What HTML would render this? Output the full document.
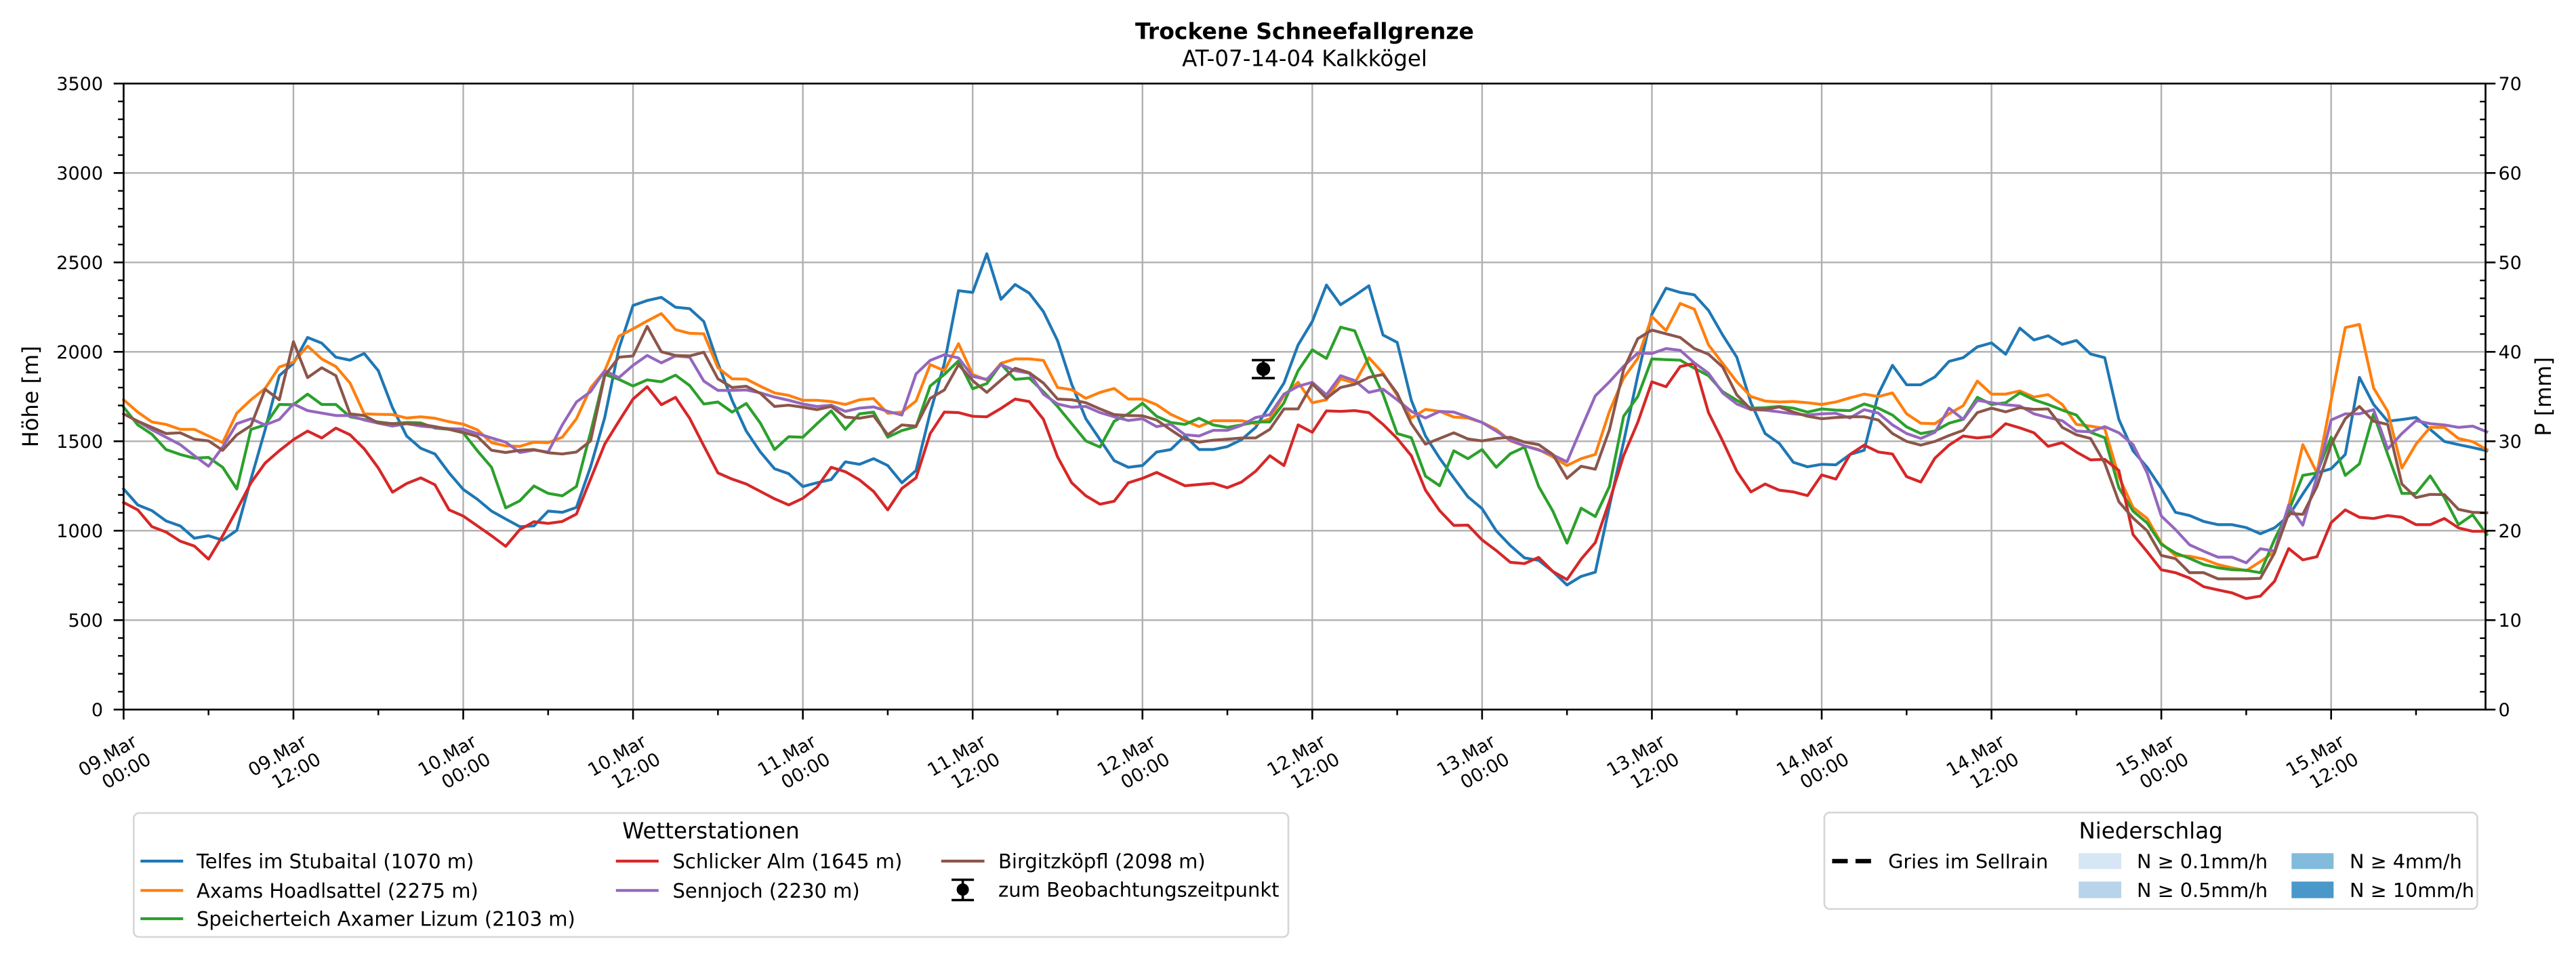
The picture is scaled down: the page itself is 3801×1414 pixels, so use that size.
<!DOCTYPE html>
<html>
<head>
<meta charset="utf-8">
<style>
html,body{margin:0;padding:0;background:#fff;}
body{width:3801px;height:1414px;overflow:hidden;}
svg{display:block;}
text{font-family:"DejaVu Sans","Liberation Sans",sans-serif;fill:#000;}
</style>
</head>
<body>
<svg width="3801" height="1414" viewBox="0 0 3801 1414" xmlns="http://www.w3.org/2000/svg">
<rect x="0" y="0" width="3801" height="1414" fill="#fff"/>

<!-- Title -->
<text x="1925" y="57.3" font-size="33" font-weight="bold" text-anchor="middle">Trockene Schneefallgrenze</text>
<text x="1925" y="97.3" font-size="32.5" text-anchor="middle">AT-07-14-04 Kalkkögel</text>

<!-- Grid -->
<g stroke="#b0b0b0" stroke-width="2.4">
<line x1="432.96" y1="123.3" x2="432.96" y2="1047.3"/>
<line x1="683.52" y1="123.3" x2="683.52" y2="1047.3"/>
<line x1="934.08" y1="123.3" x2="934.08" y2="1047.3"/>
<line x1="1184.64" y1="123.3" x2="1184.64" y2="1047.3"/>
<line x1="1435.2" y1="123.3" x2="1435.2" y2="1047.3"/>
<line x1="1685.76" y1="123.3" x2="1685.76" y2="1047.3"/>
<line x1="1936.32" y1="123.3" x2="1936.32" y2="1047.3"/>
<line x1="2186.88" y1="123.3" x2="2186.88" y2="1047.3"/>
<line x1="2437.44" y1="123.3" x2="2437.44" y2="1047.3"/>
<line x1="2688" y1="123.3" x2="2688" y2="1047.3"/>
<line x1="2938.56" y1="123.3" x2="2938.56" y2="1047.3"/>
<line x1="3189.12" y1="123.3" x2="3189.12" y2="1047.3"/>
<line x1="3439.68" y1="123.3" x2="3439.68" y2="1047.3"/>
<line x1="182.4" y1="915.3" x2="3667.5" y2="915.3"/>
<line x1="182.4" y1="783.3" x2="3667.5" y2="783.3"/>
<line x1="182.4" y1="651.3" x2="3667.5" y2="651.3"/>
<line x1="182.4" y1="519.3" x2="3667.5" y2="519.3"/>
<line x1="182.4" y1="387.3" x2="3667.5" y2="387.3"/>
<line x1="182.4" y1="255.3" x2="3667.5" y2="255.3"/>
</g>

<!-- Data series -->
<g transform="translate(182.4,340) scale(20.88,0.363504)" fill="none" stroke-width="4.2" stroke-linejoin="round" stroke-linecap="square">
<polyline vector-effect="non-scaling-stroke" stroke="#1f77b4" points="0,1050 1,1115 2,1138 3,1180 4,1200 5,1250 6,1240 7,1258 8,1218 9,1010 10,810 11,590 12,540 13,435 14,458 15,515 16,527 17,500 18,570 19,720 20,835 21,885 22,908 23,985 24,1052 25,1092 26,1140 27,1172 28,1203 29,1200 30,1140 31,1145 32,1125 33,960 34,760 35,480 36,305 37,285 38,272 39,312 40,318 41,370 42,540 43,690 44,815 45,900 46,968 47,988 48,1040 49,1025 50,1012 51,940 52,950 53,927 54,955 55,1025 56,975 57,740 58,540 59,245 60,252 61,95 62,280 63,220 64,255 65,330 66,448 67,625 68,765 69,850 70,935 71,962 72,955 73,900 74,890 75,835 76,890 77,890 78,878 79,850 80,800 81,710 82,620 83,465 84,370 85,222 86,302 87,265 88,225 89,425 90,455 91,690 92,835 93,925 94,1005 95,1082 96,1130 97,1220 98,1280 99,1330 100,1340 101,1385 102,1440 103,1405 104,1388 105,1120 106,860 107,590 108,340 109,235 110,252 111,262 112,325 113,425 114,515 115,700 116,825 117,865 118,942 119,960 120,950 121,952 122,910 123,893 124,665 125,548 126,627 127,627 128,595 129,532 130,517 131,473 132,457 133,503 134,397 135,445 136,428 137,463 138,447 139,502 140,517 141,768 142,895 143,962 144,1048 145,1145 146,1158 147,1182 148,1195 149,1195 150,1207 151,1232 152,1208 153,1160 154,1070 155,985 156,968 157,910 158,597 159,707 160,775 161,768 162,760 163,808 164,857 165,870 166,882 167,895"/>
<polyline vector-effect="non-scaling-stroke" stroke="#ff7f0e" points="0,688 1,738 2,778 3,788 4,808 5,808 6,835 7,862 8,742 9,688 10,642 11,555 12,535 13,470 14,522 15,553 16,620 17,745 18,747 19,748 20,762 21,757 22,763 23,777 24,787 25,810 26,862 27,875 28,877 29,860 30,862 31,840 32,765 33,640 34,570 35,430 36,400 37,368 38,338 39,403 40,418 41,420 42,558 43,603 44,604 45,633 46,660 47,670 48,690 49,690 50,695 51,707 52,688 53,683 54,743 55,738 56,693 57,545 58,570 59,460 60,585 61,608 62,540 63,522 64,522 65,528 66,638 67,647 68,682 69,658 70,642 71,685 72,685 73,708 74,747 75,773 76,797 77,773 78,773 79,773 80,785 81,765 82,670 83,617 84,700 85,688 86,603 87,620 88,517 89,580 90,670 91,762 92,727 93,735 94,758 95,762 96,780 97,808 98,855 99,875 100,890 101,920 102,955 103,927 104,910 105,735 106,600 107,520 108,350 109,407 110,297 111,320 112,465 113,540 114,615 115,675 116,693 117,697 118,695 119,700 120,707 121,697 122,680 123,665 124,675 125,660 126,745 127,783 128,785 129,745 130,712 131,612 132,665 133,665 134,652 135,677 136,667 137,707 138,788 139,795 140,805 141,1000 142,1125 143,1170 144,1270 145,1320 146,1323 147,1335 148,1357 149,1370 150,1382 151,1345 152,1305 153,1120 154,870 155,985 156,690 157,395 158,382 159,640 160,735 161,965 162,868 163,800 164,800 165,845 166,858 167,890"/>
<polyline vector-effect="non-scaling-stroke" stroke="#2ca02c" points="0,718 1,790 2,828 3,890 4,910 5,925 6,922 7,962 8,1050 9,808 10,790 11,707 12,708 13,665 14,707 15,707 16,757 17,768 18,778 19,785 20,780 21,782 22,803 23,808 24,822 25,895 26,962 27,1127 28,1098 29,1038 30,1068 31,1078 32,1040 33,820 34,585 35,605 36,632 37,607 38,615 39,588 40,630 41,705 42,697 43,738 44,703 45,783 46,890 47,838 48,840 49,785 50,733 51,808 52,745 53,738 54,840 55,813 56,797 57,632 58,585 59,530 60,643 61,622 62,543 63,605 64,600 65,655 66,715 67,785 68,855 69,880 70,775 71,745 72,702 73,755 74,780 75,788 76,763 77,790 78,800 79,790 80,778 81,778 82,700 83,570 84,485 85,520 86,393 87,408 88,550 89,665 90,825 91,842 92,998 93,1037 94,895 95,927 96,890 97,962 98,907 99,880 100,1040 101,1140 102,1270 103,1128 104,1162 105,1040 106,755 107,675 108,522 109,525 110,527 111,560 112,590 113,655 114,690 115,722 116,720 117,715 118,722 119,738 120,725 121,730 122,732 123,705 124,722 125,750 126,798 127,825 128,815 129,783 130,767 131,678 132,707 133,700 134,660 135,688 136,707 137,730 138,750 139,820 140,842 141,1045 142,1140 143,1188 144,1275 145,1310 146,1332 147,1357 148,1370 149,1378 150,1380 151,1390 152,1255 153,1140 154,995 155,985 156,840 157,995 158,948 159,745 160,910 161,1068 162,1068 163,997 164,1085 165,1195 166,1155 167,1235"/>
<polyline vector-effect="non-scaling-stroke" stroke="#d62728" points="0,1105 1,1135 2,1203 3,1225 4,1262 5,1282 6,1335 7,1240 8,1135 9,1025 10,945 11,895 12,850 13,815 14,843 15,803 16,830 17,887 18,965 19,1063 20,1028 21,1005 22,1033 23,1135 24,1160 25,1200 26,1240 27,1283 28,1215 29,1183 30,1190 31,1182 32,1152 33,1010 34,868 35,775 36,685 37,635 38,708 39,678 40,763 41,875 42,985 43,1010 44,1030 45,1060 46,1090 47,1115 48,1088 49,1043 50,962 51,980 52,1013 53,1060 54,1135 55,1048 56,1005 57,825 58,738 59,740 60,755 61,757 62,723 63,685 64,695 65,767 66,920 67,1025 68,1078 69,1112 70,1100 71,1025 72,1007 73,983 74,1010 75,1037 76,1032 77,1027 78,1045 79,1022 80,978 81,915 82,955 83,790 84,820 85,733 86,735 87,732 88,740 89,788 90,845 91,915 92,1055 93,1138 94,1198 95,1197 96,1257 97,1300 98,1348 99,1353 100,1328 101,1385 102,1418 103,1335 104,1268 105,1100 106,915 107,780 108,615 109,635 110,553 111,540 112,740 113,855 114,978 115,1062 116,1030 117,1055 118,1062 119,1077 120,993 121,1010 122,910 123,872 124,900 125,908 126,1000 127,1022 128,925 129,872 130,835 131,843 132,837 133,785 134,802 135,822 136,877 137,862 138,900 139,932 140,930 141,975 142,1235 143,1305 144,1378 145,1390 146,1412 147,1447 148,1460 149,1472 150,1495 151,1485 152,1425 153,1292 154,1338 155,1325 156,1187 157,1135 158,1165 159,1170 160,1158 161,1165 162,1195 163,1195 164,1170 165,1208 166,1222 167,1222"/>
<polyline vector-effect="non-scaling-stroke" stroke="#9467bd" points="0,745 1,775 2,810 3,840 4,870 5,915 6,958 7,880 8,785 9,765 10,790 11,768 12,705 13,732 14,742 15,752 16,752 17,770 18,783 19,795 20,785 21,795 22,800 23,805 24,807 25,825 26,843 27,860 28,902 29,892 30,900 31,790 32,697 33,655 34,570 35,598 36,548 37,508 38,538 39,510 40,515 41,612 42,650 43,650 44,648 45,660 46,677 47,690 48,705 49,715 50,710 51,735 52,722 53,717 54,735 55,750 56,583 57,528 58,505 59,518 60,593 61,605 62,545 63,570 64,580 65,665 66,705 67,718 68,715 69,740 70,757 71,772 72,765 73,797 74,787 75,830 76,835 77,812 78,812 79,792 80,760 81,748 82,665 83,633 84,617 85,668 86,590 87,610 88,658 89,645 90,688 91,735 92,762 93,735 94,738 95,758 96,780 97,815 98,852 99,875 100,892 101,912 102,940 103,805 104,672 105,615 106,552 107,498 108,500 109,480 110,487 111,538 112,580 113,660 114,705 115,728 116,730 117,737 118,745 119,750 120,745 121,743 122,762 123,728 124,742 125,790 126,825 127,845 128,820 129,722 130,768 131,690 132,700 133,708 134,713 135,745 136,760 137,773 138,815 139,818 140,797 141,822 142,870 143,985 144,1160 145,1215 146,1277 147,1303 148,1327 149,1327 150,1350 151,1293 152,1302 153,1115 154,1197 155,1000 156,770 157,745 158,745 159,728 160,888 161,825 162,773 163,785 164,790 165,800 166,795 167,818"/>
<polyline vector-effect="non-scaling-stroke" stroke="#8c564b" points="0,745 1,775 2,800 3,825 4,822 5,848 6,855 7,893 8,830 9,793 10,645 11,688 12,452 13,598 14,558 15,590 16,745 17,752 18,782 19,785 20,785 21,787 22,797 23,808 24,820 25,837 26,893 27,902 28,893 29,890 30,903 31,908 32,900 33,855 34,590 35,515 36,510 37,390 38,493 39,508 40,510 41,495 42,603 43,638 44,633 45,662 46,715 47,710 48,718 49,728 50,715 51,758 52,763 53,753 54,830 55,790 56,795 57,682 58,648 59,545 60,610 61,658 62,608 63,560 64,578 65,620 66,685 67,688 68,700 69,725 70,748 71,752 72,753 73,770 74,810 75,848 76,860 77,852 78,848 79,843 80,843 81,808 82,725 83,725 84,623 85,682 86,638 87,625 88,597 89,585 90,662 91,785 92,868 93,845 94,822 95,847 96,855 97,845 98,840 99,860 100,870 101,910 102,1007 103,958 104,970 105,810 106,565 107,440 108,405 109,420 110,435 111,480 112,503 113,555 114,668 115,727 116,727 117,717 118,738 119,755 120,765 121,760 122,757 123,757 124,770 125,825 126,857 127,872 128,857 129,833 130,812 131,740 132,722 133,737 134,720 135,727 136,725 137,800 138,830 139,845 140,945 141,1102 142,1168 143,1220 144,1320 145,1333 146,1390 147,1390 148,1415 149,1415 150,1415 151,1413 152,1310 153,1150 154,1153 155,1040 156,870 157,765 158,715 159,775 160,788 161,1030 162,1085 163,1072 164,1073 165,1133 166,1145 167,1147"/>
</g>

<!-- Observation errorbar -->
<g stroke="#000" stroke-width="3.6">
<line x1="1847.1" y1="531.6" x2="1881.1" y2="531.6"/>
<line x1="1847.1" y1="558.1" x2="1881.1" y2="558.1"/>
<line x1="1864.1" y1="531.6" x2="1864.1" y2="558.1"/>
</g>
<circle cx="1864.1" cy="544.7" r="10.2" fill="#000"/>

<!-- Spines -->
<rect x="182.4" y="123.3" width="3485.1" height="924" fill="none" stroke="#000" stroke-width="2.7"/>

<!-- Ticks -->
<g stroke="#000" fill="none">
<line x1="178.25" y1="1048.5" x2="178.25" y2="122" stroke-width="8.3" stroke-dasharray="2.4 24"/>
<line x1="175.05" y1="1048.6" x2="175.05" y2="122" stroke-width="14.7" stroke-dasharray="2.6 129.4"/>
<line x1="3663.35" y1="1048.7" x2="3663.35" y2="122" stroke-width="8.3" stroke-dasharray="0 26.4 2.4 24 2.4 24 2.4 24 2.4 24"/>
<line x1="3674.85" y1="1048.6" x2="3674.85" y2="122" stroke-width="14.7" stroke-dasharray="2.6 129.4"/>
<line x1="181.1" y1="1054.65" x2="3450" y2="1054.65" stroke-width="14.7" stroke-dasharray="2.6 247.96"/>
<line x1="306.43" y1="1051.45" x2="3580" y2="1051.45" stroke-width="8.3" stroke-dasharray="2.5 248.06"/>
</g>

<!-- Y tick labels left -->
<g font-size="27" text-anchor="end">
<text x="152" y="1057.1">0</text>
<text x="152" y="925.1">500</text>
<text x="152" y="793.1">1000</text>
<text x="152" y="661.1">1500</text>
<text x="152" y="529.1">2000</text>
<text x="152" y="397.1">2500</text>
<text x="152" y="265.1">3000</text>
<text x="152" y="133.1">3500</text>
</g>
<!-- Y tick labels right -->
<g font-size="27" text-anchor="start">
<text x="3686.5" y="1057.1">0</text>
<text x="3686.5" y="925.1">10</text>
<text x="3686.5" y="793.1">20</text>
<text x="3686.5" y="661.1">30</text>
<text x="3686.5" y="529.1">40</text>
<text x="3686.5" y="397.1">50</text>
<text x="3686.5" y="265.1">60</text>
<text x="3686.5" y="133.1">70</text>
</g>

<!-- Axis labels -->
<text transform="translate(56,585.3) rotate(-90)" font-size="32" text-anchor="middle">Höhe [m]</text>
<text transform="translate(3764,585.3) rotate(-90)" font-size="32" text-anchor="middle">P [mm]</text>

<!-- X tick labels -->
<g font-size="27">
<text transform="translate(122.7,1146.7) rotate(-30)">09.Mar</text>
<text transform="translate(157.4,1165) rotate(-30)">00:00</text>
<text transform="translate(373.26,1146.7) rotate(-30)">09.Mar</text>
<text transform="translate(407.96,1165) rotate(-30)">12:00</text>
<text transform="translate(623.82,1146.7) rotate(-30)">10.Mar</text>
<text transform="translate(658.52,1165) rotate(-30)">00:00</text>
<text transform="translate(874.38,1146.7) rotate(-30)">10.Mar</text>
<text transform="translate(909.08,1165) rotate(-30)">12:00</text>
<text transform="translate(1124.94,1146.7) rotate(-30)">11.Mar</text>
<text transform="translate(1159.64,1165) rotate(-30)">00:00</text>
<text transform="translate(1375.5,1146.7) rotate(-30)">11.Mar</text>
<text transform="translate(1410.2,1165) rotate(-30)">12:00</text>
<text transform="translate(1626.06,1146.7) rotate(-30)">12.Mar</text>
<text transform="translate(1660.76,1165) rotate(-30)">00:00</text>
<text transform="translate(1876.62,1146.7) rotate(-30)">12.Mar</text>
<text transform="translate(1911.32,1165) rotate(-30)">12:00</text>
<text transform="translate(2127.18,1146.7) rotate(-30)">13.Mar</text>
<text transform="translate(2161.88,1165) rotate(-30)">00:00</text>
<text transform="translate(2377.74,1146.7) rotate(-30)">13.Mar</text>
<text transform="translate(2412.44,1165) rotate(-30)">12:00</text>
<text transform="translate(2628.3,1146.7) rotate(-30)">14.Mar</text>
<text transform="translate(2663,1165) rotate(-30)">00:00</text>
<text transform="translate(2878.86,1146.7) rotate(-30)">14.Mar</text>
<text transform="translate(2913.56,1165) rotate(-30)">12:00</text>
<text transform="translate(3129.42,1146.7) rotate(-30)">15.Mar</text>
<text transform="translate(3164.12,1165) rotate(-30)">00:00</text>
<text transform="translate(3379.98,1146.7) rotate(-30)">15.Mar</text>
<text transform="translate(3414.68,1165) rotate(-30)">12:00</text>
</g>

<!-- Legend 1: Wetterstationen -->
<rect x="197.3" y="1200" width="1703.7" height="183" rx="8" ry="8" fill="#fff" stroke="#d6d6d6" stroke-width="2.6"/>
<text x="1049" y="1237.3" font-size="32.5" text-anchor="middle">Wetterstationen</text>
<g stroke-width="4.2" stroke-linecap="butt">
<line x1="207.3" y1="1271" x2="270.3" y2="1271" stroke="#1f77b4"/>
<line x1="207.3" y1="1314.3" x2="270.3" y2="1314.3" stroke="#ff7f0e"/>
<line x1="207.3" y1="1356" x2="270.3" y2="1356" stroke="#2ca02c"/>
<line x1="908.8" y1="1271" x2="971.8" y2="1271" stroke="#d62728"/>
<line x1="908.8" y1="1314.3" x2="971.8" y2="1314.3" stroke="#9467bd"/>
<line x1="1388.8" y1="1271" x2="1452.6" y2="1271" stroke="#8c564b"/>
</g>
<g stroke="#000" stroke-width="3.6">
<line x1="1404.1" y1="1298.5" x2="1437.1" y2="1298.5"/>
<line x1="1404.1" y1="1328.5" x2="1437.1" y2="1328.5"/>
<line x1="1420.6" y1="1298.5" x2="1420.6" y2="1328.5"/>
</g>
<circle cx="1420.6" cy="1313" r="9" fill="#000"/>
<g font-size="29">
<text x="290" y="1281.7">Telfes im Stubaital (1070 m)</text>
<text x="290" y="1325">Axams Hoadlsattel (2275 m)</text>
<text x="290" y="1366.7">Speicherteich Axamer Lizum (2103 m)</text>
<text x="992.5" y="1281.7">Schlicker Alm (1645 m)</text>
<text x="992.5" y="1325">Sennjoch (2230 m)</text>
<text x="1473" y="1281.7">Birgitzköpfl (2098 m)</text>
<text x="1473" y="1323.5">zum Beobachtungszeitpunkt</text>
</g>

<!-- Legend 2: Niederschlag -->
<rect x="2691.9" y="1199.3" width="963.5" height="142.4" rx="8" ry="8" fill="#fff" stroke="#d6d6d6" stroke-width="2.6"/>
<text x="3173.6" y="1237.3" font-size="32.5" text-anchor="middle">Niederschlag</text>
<line x1="2703.4" y1="1271" x2="2760.8" y2="1271" stroke="#000" stroke-width="6.5" stroke-dasharray="23 11.5"/>
<rect x="3067.2" y="1259.3" width="62.8" height="23.4" fill="#d6e6f4"/>
<rect x="3067.2" y="1301.2" width="62.8" height="24.5" fill="#b7d4ea"/>
<rect x="3381.3" y="1259.3" width="62" height="23.4" fill="#82bbdb"/>
<rect x="3381.3" y="1301.2" width="62" height="24.5" fill="#4a98c9"/>
<g font-size="28.7">
<text x="2786.1" y="1281.7">Gries im Sellrain</text>
<text x="3153" y="1281.7">N ≥ 0.1mm/h</text>
<text x="3153" y="1324">N ≥ 0.5mm/h</text>
<text x="3467" y="1281.7">N ≥ 4mm/h</text>
<text x="3467" y="1324">N ≥ 10mm/h</text>
</g>
</svg>
</body>
</html>
